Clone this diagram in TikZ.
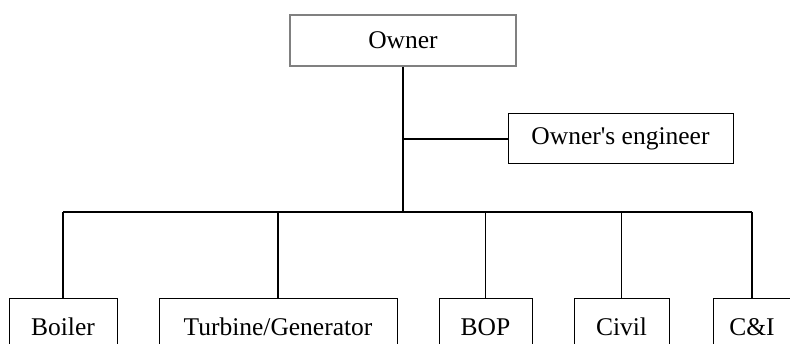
\documentclass[tikz,border=0pt]{standalone}
\usepackage{fontspec}
\setmainfont{Liberation Serif}[Ligatures=TeXOff]
\begin{document}
\begin{tikzpicture}[x=1pt,y=-1pt,
  box/.style={draw=black,line width=1pt,inner sep=0pt,font=\fontsize{25.5}{30}\selectfont},
  ownerbox/.style={draw=gray,line width=2pt,inner sep=0pt,font=\fontsize{25.5}{30}\selectfont},
  conn/.style={draw=black,line width=1.1pt},
  mainline/.style={draw=black,line width=2pt}]
\clip (0,0) rectangle (790,344);
\fill[white] (0,0) rectangle (790,344);
\node[ownerbox,minimum width=226pt,minimum height=51pt] (owner) at (403,40.5) {Owner};
\node[box,minimum width=225pt,minimum height=50pt] (oe) at (620.5,139) {Owner's engineer};
\node[box,minimum width=108pt,minimum height=56pt] (boiler) at (63,327) {Boiler};
\node[box,minimum width=238pt,minimum height=56pt] (turbine) at (278,327) {Turbine/Generator};
\node[box,minimum width=93pt,minimum height=56pt] (bop) at (485.5,327) {BOP};
\node[box,minimum width=95pt,minimum height=56pt] (civil) at (621.5,327) {Civil};
\node[box,minimum width=78pt,minimum height=56pt] (ci) at (752,327) {C\&I};
\coordinate (bus) at (403,212);
\draw[mainline] (owner.south) -- (bus);
\draw[conn] (owner.south |- oe.west) -- (oe.west);
\draw[conn] (boiler.north |- bus) -- (ci.north |- bus);
\draw[conn] (boiler.north |- bus) -- (boiler.north);
\draw[conn] (turbine.north |- bus) -- (turbine.north);
\draw[conn] (bop.north |- bus) -- (bop.north);
\draw[conn] (civil.north |- bus) -- (civil.north);
\draw[conn] (ci.north |- bus) -- (ci.north);
\end{tikzpicture}
\end{document}
